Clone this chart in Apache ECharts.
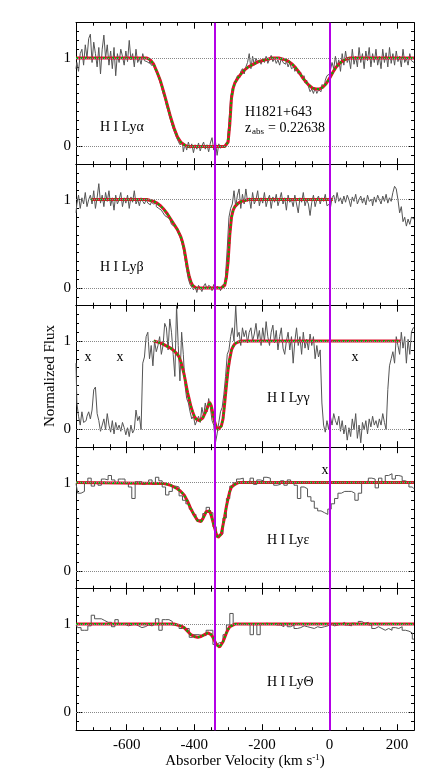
<!DOCTYPE html>
<html><head><meta charset="utf-8">
<script src="https://cdn.jsdelivr.net/npm/echarts@6/dist/echarts.min.js"></script>
<style>html,body{margin:0;padding:0;background:#fff}#c{width:436px;height:779px}</style>
</head><body><div id="c"></div><script>
// ---------- DATA ----------
const velMin = -750, velMax = 250;
const fineStart = -750, fineStep = 5;     // Ly-alpha, Ly-beta, Ly-gamma pixels (km/s)
const coarseStart = -750, coarseStep = 10; // Ly-epsilon, Ly-theta pixels (km/s)
const xTickLabels = [-600, -400, -200, 0, 200];
const yTickLabels = [0, 1];
const markerVelocities = [-340, 0];
const panelNames = ['H I Lyα', 'H I Lyβ', 'H I Lyγ', 'H I Lyε', 'H I LyΘ'];

const lyaFlux = [
 0.88,0.95,0.85,1.05,1.10,0.92,1.15,1.00,1.22,1.27,
 0.95,1.18,1.05,0.90,1.12,0.82,1.10,1.26,1.00,1.15,
 0.92,1.08,0.88,1.12,0.80,1.05,0.95,1.10,1.02,0.92,
 1.08,0.96,1.20,0.98,1.05,0.90,1.10,0.95,1.00,0.93,
 1.05,0.97,0.96,0.94,0.98,0.92,0.92,0.88,0.84,0.80,
 0.74,0.68,0.60,0.55,0.46,0.40,0.33,0.26,0.20,0.15,
 0.10,0.06,0.02,0.04,-0.06,0.03,-0.04,0.05,-0.02,0.03,
 -0.07,0.02,-0.03,0.04,-0.05,0.01,0.05,-0.03,0.02,-0.06,
 0.04,0.10,-0.04,0.06,-0.10,0.03,-0.02,0.01,0.00,0.03,
 0.06,0.28,0.55,0.66,0.70,0.75,0.80,0.78,0.85,0.88,
 0.82,0.90,0.95,1.05,0.88,1.02,0.92,1.00,0.95,0.98,
 0.93,1.00,0.95,1.02,0.94,0.99,1.03,0.96,1.00,0.94,
 0.98,0.92,1.00,0.95,0.93,0.97,0.90,0.95,0.88,0.90,
 0.85,0.88,0.82,0.84,0.78,0.80,0.72,0.75,0.68,0.62,
 0.65,0.60,0.66,0.60,0.64,0.62,0.70,0.68,0.75,0.80,
 0.82,0.86,0.95,0.88,1.02,0.90,0.98,0.85,1.05,0.92,
 1.08,0.95,1.00,0.88,1.10,0.93,1.02,0.90,1.12,0.95,
 1.05,0.88,1.08,0.97,1.12,0.90,1.05,0.95,1.10,0.92,
 1.02,0.88,1.10,0.95,1.06,0.90,1.12,0.94,1.05,0.92,
 1.08,0.96,1.02,0.90,1.10,0.95,1.00,0.92,1.05,0.97,
 0.95];
const lybFlux = [
 0.85,0.95,1.05,0.90,1.02,0.95,1.08,0.92,1.00,1.05,
 0.95,1.10,0.90,1.02,1.18,0.96,1.05,0.92,1.08,0.98,
 1.10,0.93,1.02,0.88,1.05,0.95,1.00,1.08,0.92,1.02,
 0.96,1.05,0.90,1.03,0.97,1.10,0.95,1.00,0.93,1.02,
 0.98,0.95,1.00,0.96,0.94,0.97,0.95,0.96,0.92,0.90,
 0.88,0.86,0.85,0.82,0.80,0.78,0.76,0.72,0.70,0.68,
 0.66,0.62,0.58,0.52,0.44,0.32,0.20,0.10,0.04,0.01,
 -0.02,0.02,-0.05,0.03,0.00,-0.04,0.02,0.05,-0.01,0.03,
 0.01,-0.03,0.04,-0.02,0.02,0.00,-0.03,0.03,0.05,0.15,
 0.45,0.80,0.90,0.95,1.10,0.92,1.05,1.12,0.90,1.06,
 0.95,1.12,0.98,1.02,0.90,1.08,0.95,1.00,1.10,0.93,
 1.02,0.96,1.08,0.92,1.00,1.05,0.90,1.03,0.97,1.06,
 0.93,1.00,1.08,0.95,1.02,0.88,1.05,0.97,1.00,0.92,
 1.05,0.95,0.85,1.02,0.97,1.08,0.93,1.00,0.95,0.82,
 0.97,1.05,0.92,1.00,1.04,0.95,1.02,0.98,1.06,0.93,
 0.95,0.90,1.02,1.05,0.96,1.08,0.98,1.02,0.95,1.04,
 0.97,1.05,1.00,0.92,1.03,0.98,1.06,0.95,1.00,1.04,
 0.96,1.02,0.94,1.05,0.98,1.00,0.93,1.03,0.97,1.05,
 1.00,0.95,1.04,0.98,1.06,0.96,1.02,0.98,1.08,1.15,
 1.12,1.00,0.85,0.92,0.75,0.80,0.70,0.78,0.72,0.80,
 0.78];
const lygFlux = [
 0.75,0.30,0.15,0.05,0.20,0.08,0.10,0.15,0.20,0.12,
 0.22,0.45,0.48,0.18,0.10,-0.02,0.05,0.12,0.00,0.18,
 0.05,-0.03,0.10,-0.05,0.08,0.00,0.05,-0.02,0.08,0.02,
 -0.06,0.02,-0.08,0.05,-0.04,0.00,0.22,0.10,0.15,0.00,
 0.75,0.82,1.05,1.10,0.80,0.95,0.72,1.00,0.88,0.95,
 1.05,0.85,0.95,1.20,1.15,0.90,1.25,1.10,0.85,0.60,
 1.40,0.95,0.55,1.10,0.85,0.50,0.35,0.30,0.20,0.12,
 0.15,0.05,0.10,0.15,0.08,0.25,0.15,0.30,0.20,0.35,
 0.25,0.10,0.05,-0.15,-0.05,0.08,0.20,0.25,0.40,0.60,
 0.85,0.90,1.05,1.15,1.00,1.40,1.05,1.10,0.95,1.15,
 1.05,1.12,0.98,1.10,1.15,1.00,1.08,1.20,1.02,1.12,
 0.95,1.15,1.00,1.22,1.05,0.95,1.10,1.18,0.98,1.12,
 0.90,1.05,1.15,0.92,0.85,1.00,1.10,0.90,1.05,0.75,
 1.00,1.15,0.95,1.05,0.85,1.10,0.92,1.02,0.90,1.08,
 0.95,1.05,0.80,0.95,0.82,0.90,0.30,0.05,-0.03,0.10,
 0.00,0.15,0.05,0.18,0.10,0.05,0.15,-0.02,0.10,-0.05,
 0.05,-0.12,0.02,-0.08,0.12,0.00,0.18,-0.10,0.05,-0.15,
 0.08,0.00,0.10,-0.05,0.12,0.03,0.15,0.05,0.10,0.02,
 0.12,0.05,0.18,0.08,0.00,0.45,0.72,0.80,0.88,0.75,
 1.05,0.95,0.85,1.10,0.92,1.05,0.75,1.02,0.85,1.10,
 1.15];
const lyeFlux = [
 0.99,0.88,0.90,1.00,1.05,0.96,1.00,0.97,1.04,1.03,
 1.08,1.03,1.00,1.04,1.04,1.00,0.95,0.82,1.01,1.01,
 0.98,1.00,1.03,0.98,1.06,1.02,0.95,0.86,0.90,0.96,
 0.95,0.85,0.80,0.76,0.70,0.64,0.58,0.58,0.65,0.72,
 0.66,0.50,0.40,0.42,0.60,0.82,0.96,1.00,1.04,1.05,
 1.00,1.02,1.05,0.98,1.03,1.02,1.06,1.05,1.00,0.97,
 0.98,1.02,0.97,1.03,1.00,0.97,0.82,0.95,0.93,0.84,
 0.79,0.71,0.68,0.66,0.64,0.70,0.76,0.82,0.88,0.90,
 0.90,0.90,0.88,0.80,0.88,1.00,1.02,1.05,1.04,0.94,
 1.05,1.00,1.08,1.10,1.04,1.08,1.07,1.02,1.00,0.95,
 0.93];
const lytFlux = [
 0.99,0.96,0.93,0.93,0.98,1.10,1.06,1.06,1.04,1.02,
 1.02,0.97,1.05,1.00,1.00,0.98,0.99,1.00,0.98,0.96,
 0.97,0.99,0.98,1.00,1.06,0.93,1.05,1.05,1.03,0.99,
 0.99,0.95,0.95,0.95,0.85,0.88,0.88,0.87,0.87,0.93,
 0.93,0.77,0.79,0.79,0.88,0.99,1.12,1.00,1.00,1.00,
 1.00,1.00,0.88,1.00,0.88,1.00,1.01,1.00,1.00,0.99,
 0.99,0.97,1.00,0.97,0.99,0.95,0.96,0.98,0.97,0.96,
 0.95,0.97,0.96,0.97,0.98,1.00,0.98,0.99,1.00,1.02,
 0.99,0.98,1.01,1.00,1.03,1.01,1.02,0.99,0.95,0.97,
 0.95,0.93,0.95,0.93,0.96,0.95,0.97,0.93,0.92,0.90,
 0.83];

// model fits: velocity knots and normalized flux
const lyaModelV = [-750,-540,-530,-520,-510,-500,-490,-480,-470,-460,-450,-440,-430,-420,-310,-305,-300,-295,-290,-285,-280,-270,-260,-250,-240,-230,-220,-210,-200,-190,-180,-170,-150,-140,-130,-120,-110,-100,-90,-80,-70,-60,-50,-40,-30,-20,-10,0,10,20,30,40,50,60,250];
const lyaModelF = [1,1,0.98,0.93,0.84,0.74,0.61,0.47,0.33,0.21,0.11,0.05,0.02,0,0,0.01,0.05,0.25,0.55,0.66,0.72,0.78,0.83,0.87,0.90,0.92,0.94,0.96,0.97,0.98,0.99,1,1,0.99,0.98,0.96,0.93,0.89,0.84,0.78,0.73,0.69,0.66,0.65,0.65,0.67,0.71,0.77,0.84,0.90,0.94,0.97,0.99,1,1];
const lybModelV = [-705,-540,-530,-520,-510,-500,-490,-480,-470,-460,-450,-440,-435,-430,-425,-420,-415,-410,-405,-400,-395,-320,-315,-310,-305,-300,-295,-290,-285,-280,-270,-260,-250,-240,10];
const lybModelF = [1,1,0.99,0.98,0.96,0.93,0.89,0.84,0.78,0.72,0.66,0.58,0.52,0.44,0.33,0.22,0.13,0.07,0.03,0.01,0,0,0.01,0.03,0.12,0.30,0.60,0.80,0.88,0.92,0.96,0.98,0.99,1,1];
const lygModelV = [-520,-500,-480,-470,-460,-450,-445,-440,-435,-430,-425,-420,-415,-410,-405,-400,-395,-390,-385,-380,-375,-370,-365,-360,-355,-350,-345,-340,-335,-330,-325,-320,-315,-310,-305,-300,-295,-290,-285,-280,-270,-260,210];
const lygModelF = [1.0,0.98,0.94,0.92,0.89,0.85,0.82,0.77,0.70,0.62,0.52,0.42,0.34,0.26,0.20,0.15,0.12,0.10,0.10,0.11,0.13,0.17,0.21,0.26,0.31,0.27,0.18,0.09,0.03,0.0,0.01,0.04,0.12,0.30,0.50,0.68,0.80,0.90,0.94,0.97,0.99,1.0,1.0];
const lyeModelV = [-750,-490,-480,-470,-460,-450,-440,-430,-420,-410,-400,-390,-385,-380,-375,-370,-365,-360,-355,-350,-345,-340,-335,-330,-325,-320,-315,-310,-305,-300,-295,-290,-280,-270,250];
const lyeModelF = [1,0.99,0.98,0.97,0.95,0.93,0.90,0.86,0.79,0.70,0.63,0.57,0.55,0.56,0.59,0.63,0.67,0.69,0.68,0.63,0.56,0.49,0.42,0.38,0.37,0.42,0.52,0.62,0.73,0.82,0.90,0.95,0.98,1,1];
const lytModelV = [-750,-460,-450,-440,-430,-420,-410,-400,-390,-380,-370,-360,-355,-350,-345,-340,-335,-330,-325,-320,-315,-310,-305,-300,-295,-290,-280,250];
const lytModelF = [1,1,0.99,0.98,0.96,0.92,0.88,0.86,0.85,0.86,0.88,0.90,0.90,0.88,0.85,0.81,0.77,0.75,0.74,0.76,0.80,0.85,0.90,0.94,0.97,0.99,1,1];

// ---------- BUILD ----------
function pix(start, step, arr){ return arr.map((f,i)=>[start+i*step, f]); }
function knots(v, f){ return v.map((x,i)=>[x, f[i]]); }
const panels = [
  {flux: pix(fineStart, fineStep, lyaFlux), model: knots(lyaModelV, lyaModelF)},
  {flux: pix(fineStart, fineStep, lybFlux), model: knots(lybModelV, lybModelF)},
  {flux: pix(fineStart, fineStep, lygFlux), model: knots(lygModelV, lygModelF)},
  {flux: pix(coarseStart, coarseStep, lyeFlux), model: knots(lyeModelV, lyeModelF)},
  {flux: pix(coarseStart, coarseStep, lytFlux), model: knots(lytModelV, lytModelF)}
];

const SERIF = 'Liberation Serif';
const tops = [22.7, 164.2, 305.7, 447.2, 588.7], H = 141.5;
const grid = [], xAxis = [], yAxis = [], series = [];
const lineK = {show:true, onZero:false, lineStyle:{color:'#000', width:1}};
tops.forEach((t, g) => {
  grid.push({left:76, width:338, top:t, height:H});
  const last = g === tops.length - 1;
  ['bottom','top'].forEach(pos => {
    xAxis.push({gridIndex:g, type:'value', min:velMin, max:velMax, interval:50, position:pos,
      axisLine:lineK, axisTick:{inside:true, length:3, lineStyle:{color:'#000'}},
      axisLabel:{show:false}, splitLine:{show:false}});
    xAxis.push({gridIndex:g, type:'value', min:velMin, max:velMax, position:pos,
      axisLine:{show:false, onZero:false},
      axisTick:{inside:true, length:6, customValues:xTickLabels, lineStyle:{color:'#000'}},
      axisLabel:{show: last && pos==='bottom', customValues:xTickLabels, fontFamily:SERIF, fontSize:15, color:'#000', margin:7},
      splitLine:{show:false}});
  });
  ['left','right'].forEach(pos => {
    yAxis.push({gridIndex:g, type:'value', min:-0.2, max:1.4, interval:0.1, position:pos,
      axisLine:lineK, axisTick:{inside:true, length:3, lineStyle:{color:'#000'}},
      axisLabel:{show:false}, splitLine:{show:false}});
    yAxis.push({gridIndex:g, type:'value', min:-0.2, max:1.4, position:pos,
      axisLine:{show:false, onZero:false},
      axisTick:{inside:true, length:6, customValues:yTickLabels, lineStyle:{color:'#000'}},
      axisLabel:{show: pos==='left', customValues:yTickLabels, fontFamily:SERIF, fontSize:15, color:'#000', margin:5},
      splitLine:{show:false}});
  });
  const xi = 4*g, yi = 4*g;
  series.push({type:'line', xAxisIndex:xi, yAxisIndex:yi, data:[], silent:true,
    markLine:{silent:true, symbol:'none', label:{show:false},
      lineStyle:{color:'#888', type:'dotted', width:1},
      data: yTickLabels.map(v=>({yAxis:v}))}, z:1});
  series.push({type:'line', xAxisIndex:xi, yAxisIndex:yi, data:panels[g].flux, step:'middle',
    showSymbol:false, lineStyle:{color:'#555', width:1}, z:2, animation:false});
  series.push({type:'line', xAxisIndex:xi, yAxisIndex:yi, data:panels[g].model,
    showSymbol:false, lineStyle:{color:'#e0102e', width:3}, z:3, animation:false});
  series.push({type:'line', xAxisIndex:xi, yAxisIndex:yi, data:panels[g].model,
    showSymbol:false, lineStyle:{color:'#00b400', width:2, type:[2,2.5]}, z:4, animation:false});
  series.push({type:'line', xAxisIndex:xi, yAxisIndex:yi, data:[], silent:true,
    markLine:{silent:true, symbol:'none', label:{show:false},
      lineStyle:{color:'#b400e6', type:'solid', width:2},
      data: markerVelocities.map(v=>({xAxis:v}))}, z:5});
});

const txt = (x, y, text, opt={}) => ({type:'text', x, y, z:100, silent:true,
  style:Object.assign({text, fill:'#000', font:'14px "'+SERIF+'"', textAlign:'left', textVerticalAlign:'middle'}, opt)});

const graphic = [
  txt(100, 127, panelNames[0]),
  txt(100, 267, panelNames[1]),
  txt(267, 398, panelNames[2]),
  txt(267, 540, panelNames[3]),
  txt(267, 682, panelNames[4]),
  txt(245, 112, 'H1821+643'),
  txt(245, 128, 'z'),
  txt(252, 132, 'abs', {font:'9px "'+SERIF+'"'}),
  txt(268, 128, '= 0.22638'),
  txt(88, 357, 'x', {textAlign:'center'}),
  txt(120, 357, 'x', {textAlign:'center'}),
  txt(355, 357, 'x', {textAlign:'center'}),
  txt(325, 470, 'x', {textAlign:'center'}),
  {type:'text', x:50, y:376, rotation:Math.PI/2, z:100, silent:true,
   style:{text:'Normalized Flux', fill:'#000', font:'15px "'+SERIF+'"', textAlign:'center', textVerticalAlign:'middle'}},
  {type:'text', x:245, y:761, z:100, silent:true,
   style:{text:'{t|Absorber Velocity (km s}{s|-1}{t|)}', textAlign:'center', textVerticalAlign:'middle',
     rich:{t:{fontFamily:SERIF, fontSize:15, fill:'#000', color:'#000'}, s:{fontFamily:SERIF, fontSize:9, color:'#000', fill:'#000', verticalAlign:'top', padding:[0,0,6,0]}}}}
];

const chart = echarts.init(document.getElementById('c'), null, {renderer:'canvas'});
chart.setOption({animation:false, backgroundColor:'#fff', grid, xAxis, yAxis, series, graphic});
</script></body></html>
